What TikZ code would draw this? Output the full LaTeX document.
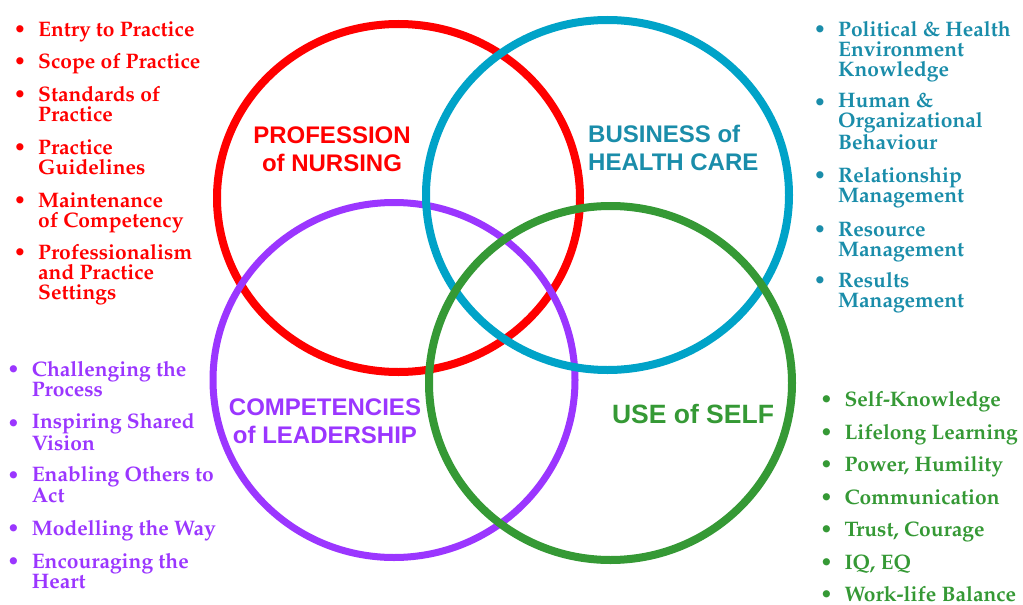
\documentclass[tikz,border=0pt]{standalone}
\usepackage[T1]{fontenc}
\usepackage{fontspec}
\setsansfont{Liberation Sans}
\newcommand{\listfont}{\fontsize{21}{20}\usefont{T1}{ppl}{b}{n}}
\definecolor{nurse}{HTML}{FF0000}
\definecolor{bizring}{HTML}{00A3C8}
\definecolor{biztext}{HTML}{1A8DAA}
\definecolor{lead}{HTML}{9B36FF}
\definecolor{self}{HTML}{359935}
\tikzset{
  ring/.style={line width=8pt},
  title/.style={font=\sffamily\bfseries\fontsize{24}{28}\selectfont, inner sep=0pt},
  % multi-line items are anchored on the baseline of their last line
  lst/.style={font=\listfont, align=left, inner sep=0pt, anchor=base west},
  bul/.style={font=\listfont, inner sep=0pt, anchor=base},
}
\begin{document}
\begin{tikzpicture}[x=1pt,y=-1pt]
\useasboundingbox[fill=white] (0,0) rectangle (1023,605);

% the four overlapping domains
\draw[ring, nurse] (398.5,198) ellipse [x radius=181.5pt, y radius=174pt];
\draw[ring, lead, line width=7pt] (394,380) ellipse [x radius=181pt, y radius=177.5pt];
\draw[ring, bizring] (607.5,195) ellipse [x radius=181.5pt, y radius=175pt];
\draw[ring, self] (610.5,383) ellipse [x radius=181.5pt, y radius=177pt];

% domain titles
\node[title, text=nurse, align=center] (tnurse) at (332,149) {PROFESSION\\of NURSING};
\node[title, text=biztext, align=left, anchor=west] (tbiz) at (588,148) {BUSINESS of\\HEALTH CARE};
\node[title, text=lead, align=center] (tlead) at (325,421) {COMPETENCIES\\of LEADERSHIP};
\node[title, text=self, font=\sffamily\bfseries\fontsize{26.5}{30}\selectfont] (tself) at (693,414) {USE of SELF};

% profession of nursing
\begin{scope}[text=nurse]
\node[bul] (rb1) at (20,36) {\textbullet};
\node[lst] (r1) at (38,36) {Entry to Practice};
\node[bul] (rb2) at (20,68.3) {\textbullet};
\node[lst] (r2) at (38,68.3) {Scope of Practice};
\node[bul] (rb3) at (20,101) {\textbullet};
\node[lst] (r3) at (38,121) {Standards of\\Practice};
\node[bul] (rb4) at (20,154) {\textbullet};
\node[lst] (r4) at (38,174) {Practice\\Guidelines};
\node[bul] (rb5) at (20,207.3) {\textbullet};
\node[lst] (r5) at (38,227.3) {Maintenance\\of Competency};
\node[bul] (rb6) at (20,259.3) {\textbullet};
\node[lst] (r6) at (38,299.3) {Professionalism\\and Practice\\Settings};
\end{scope}

% business of health care
\begin{scope}[text=biztext]
\node[bul] (bb1) at (820,36) {\textbullet};
\node[lst] (b1) at (838,76) {Political \& Health\\Environment\\Knowledge};
\node[bul] (bb2) at (820,109.3) {\textbullet};
\node[lst] (b2) at (838,149.3) {Human \&\\Organizational\\Behaviour};
\node[bul] (bb3) at (820,182.7) {\textbullet};
\node[lst] (b3) at (838,202.7) {Relationship\\Management};
\node[bul] (bb4) at (820,236) {\textbullet};
\node[lst] (b4) at (838,256) {Resource\\Management};
\node[bul] (bb5) at (820,287.3) {\textbullet};
\node[lst] (b5) at (838,307.3) {Results\\Management};
\end{scope}

% competencies of leadership
\begin{scope}[text=lead]
\node[bul] (lb1) at (13.5,376.7) {\textbullet};
\node[lst] (l1) at (31.7,396.7) {Challenging the\\Process};
\node[bul] (lb2) at (13.5,430) {\textbullet};
\node[lst] (l2) at (31.7,450) {Inspiring Shared\\Vision};
\node[bul] (lb3) at (13.5,482.7) {\textbullet};
\node[lst] (l3) at (31.7,502.7) {Enabling Others to\\Act};
\node[bul] (lb4) at (13.5,535) {\textbullet};
\node[lst] (l4) at (31.7,535) {Modelling the Way};
\node[bul] (lb5) at (13.5,568.3) {\textbullet};
\node[lst] (l5) at (31.7,588.3) {Encouraging the\\Heart};
\end{scope}

% use of self
\begin{scope}[text=self]
\node[bul] (sb1) at (826.5,406) {\textbullet};
\node[lst] (s1) at (844.3,406) {Self-Knowledge};
\node[bul] (sb2) at (826.5,439.3) {\textbullet};
\node[lst] (s2) at (844.3,439.3) {Lifelong Learning};
\node[bul] (sb3) at (826.5,471.7) {\textbullet};
\node[lst] (s3) at (844.3,471.7) {Power, Humility};
\node[bul] (sb4) at (826.5,504) {\textbullet};
\node[lst] (s4) at (844.3,504) {Communication};
\node[bul] (sb5) at (826.5,536.7) {\textbullet};
\node[lst] (s5) at (844.3,536.7) {Trust, Courage};
\node[bul] (sb6) at (826.5,569.3) {\textbullet};
\node[lst] (s6) at (844.3,569.3) {IQ, EQ};
\node[bul] (sb7) at (826.5,601) {\textbullet};
\node[lst] (s7) at (844.3,601) {Work-life Balance};
\end{scope}
\end{tikzpicture}
\end{document}
